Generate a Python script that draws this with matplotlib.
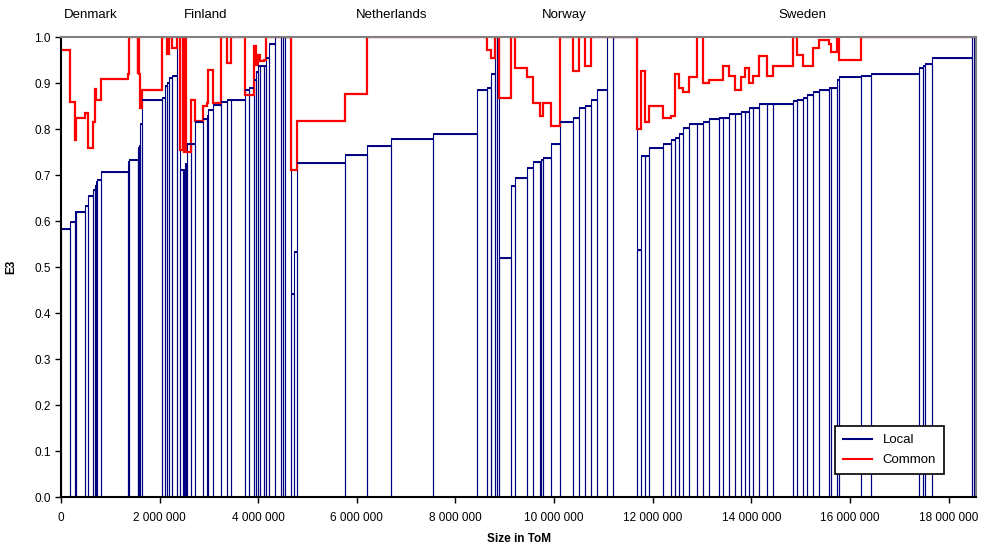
import numpy as np
import matplotlib
matplotlib.use("Agg")
import matplotlib.pyplot as plt
from matplotlib.lines import Line2D
from matplotlib.ticker import FuncFormatter, MultipleLocator

plt.rcParams['font.family'] = ['Liberation Sans', 'DejaVu Sans']

# unit sizes (thousand ToM), local and common E3 per unit, country by country
countries = ["Denmark", "Finland", "Netherlands", "Norway", "Sweden"]

size_dk = [189, 95, 26, 176, 67, 101, 35, 20, 26, 69, 548]
local_dk = [0.582, 0.598, 0.62, 0.62, 0.633, 0.655, 0.667, 0.677, 0.685, 0.689, 0.7065]
common_dk = [0.971, 0.859, 0.776, 0.825, 0.834, 0.759, 0.816, 0.886, 0.862, 0.863, 0.909]

size_fi = [26, 176, 16, 16, 20, 41, 393, 67, 34, 53, 61, 95, 67, 61, 18, 16, 20, 14, 87, 81,
           168, 69, 32, 101, 156, 122, 81, 298, 73, 95, 47, 41, 41, 81, 41, 49, 134, 116, 47, 41, 122]
local_fi = [0.729, 0.733, 0.759, 0.759, 0.762, 0.811, 0.863, 0.867, 0.893, 0.899, 0.911, 0.916, 1.0,
            0.711, 0.711, 0.711, 0.724, 0.724, 0.767, 0.767, 0.815, 0.821, 0.828, 0.841, 0.852, 0.859,
            0.863, 0.863, 0.885, 0.89, 0.907, 0.924, 0.937, 0.937, 0.937, 0.954, 0.985, 1.0, 1.0, 1.0, 1.0]
common_fi = [0.919, 1.0, 0.92, 1.0, 0.92, 0.846, 0.885, 1.0, 1.0, 0.963, 1.0, 0.976, 1.0,
             0.754, 1.0, 0.75, 1.0, 0.75, 0.75, 0.863, 0.817, 0.85, 0.856, 0.928, 0.857, 1.0,
             0.943, 1.0, 0.873, 0.873, 0.98, 0.94, 0.96, 0.947, 0.95, 1.0, 1.0, 1.0, 1.0, 1.0, 1.0]

size_nl = [61, 55, 973, 452, 487, 852, 892, 191, 81, 12, 81, 41, 41]
local_nl = [0.442, 0.533, 0.726, 0.743, 0.764, 0.778, 0.790, 0.885, 0.89, 0.907, 0.92, 1.0, 1.0]
common_nl = [0.711, 0.711, 0.817, 0.877, 1.0, 1.0, 1.0, 1.0, 0.971, 0.954, 0.954, 1.0, 1.0]

size_no = [243, 81, 243, 122, 136, 20, 34, 168, 183, 270, 122, 116, 122, 128, 203, 122, 475]
local_no = [0.52, 0.677, 0.694, 0.716, 0.729, 0.729, 0.733, 0.738, 0.767, 0.816, 0.825, 0.846,
            0.851, 0.864, 0.885, 1.0, 1.0]
common_no = [0.867, 1.0, 0.933, 0.912, 0.856, 0.828, 0.828, 0.856, 0.807, 1.0, 0.926, 1.0,
             0.938, 1.0, 1.0, 1.0, 1.0]

size_se = [81, 87, 87, 284, 150, 87, 81, 87, 116, 156, 134, 122, 203, 81, 122, 122, 122, 81, 69, 93,
           122, 150, 134, 406, 81, 110, 93, 122, 122, 203, 34, 128, 41, 446, 203, 973, 69, 53, 126,
           811, 41, 51]
local_se = [0.538, 0.741, 0.741, 0.759, 0.768, 0.777, 0.781, 0.79, 0.803, 0.811, 0.811, 0.816,
            0.821, 0.825, 0.825, 0.833, 0.833, 0.838, 0.838, 0.846, 0.846, 0.855, 0.855, 0.855,
            0.86, 0.864, 0.868, 0.873, 0.881, 0.885, 0.89, 0.89, 0.907, 0.912, 0.916, 0.92, 0.933,
            0.938, 0.942, 0.955, 1.0, 1.0]
common_se = [0.8, 0.926, 0.816, 0.85, 0.825, 0.829, 0.92, 0.89, 0.881, 0.912, 1.0, 0.9, 0.907,
             0.907, 0.938, 0.916, 0.885, 0.912, 0.933, 0.9, 0.916, 0.958, 0.916, 0.938, 1.0, 0.96,
             0.938, 0.938, 0.976, 0.993, 0.985, 0.968, 1.0, 0.95, 1.0, 1.0, 1.0, 1.0, 1.0, 1.0, 1.0, 1.0]

sizes = [size_dk, size_fi, size_nl, size_no, size_se]
size = np.concatenate(sizes) * 1000
local = np.concatenate([local_dk, local_fi, local_nl, local_no, local_se])
common = np.concatenate([common_dk, common_fi, common_nl, common_no, common_se])
edges = np.concatenate([[0], np.cumsum(size)])

navy = '#000080'

fig = plt.figure(figsize=(9.84, 5.46), dpi=100)
ax = fig.add_axes([0.062, 0.0897, 0.930, 0.8425])

# local: bars outlined, thicker tops
ax.bar(edges[:-1], local, width=size, align='edge', fill=False, edgecolor=navy, linewidth=0.8)
ax.hlines(local, edges[:-1], edges[1:], color=navy, linewidth=1.4)
# common: step line
ax.stairs(common, edges, color='#ff0000', linewidth=1.6, baseline=None)

ax.set_xlim(0, edges[-1])
ax.set_ylim(0, 1.0)
ax.yaxis.set_major_locator(MultipleLocator(0.1))
ax.yaxis.set_major_formatter(FuncFormatter(lambda v, p: f"{v:.1f}"))
ax.xaxis.set_major_locator(MultipleLocator(2000000))
ax.xaxis.set_major_formatter(FuncFormatter(lambda v, p: f"{v:,.0f}".replace(",", " ")))
ax.tick_params(labelsize=8.5, length=4, width=1, direction='out')
ax.tick_params(axis='x', pad=7)

for s in ['left', 'bottom']:
    ax.spines[s].set_color('black')
    ax.spines[s].set_linewidth(1.5)
for s in ['top', 'right']:
    ax.spines[s].set_color('#808080')
    ax.spines[s].set_linewidth(1.5)

ax.set_xlabel('Size in ToM', fontsize=8.5, fontweight='bold', labelpad=6)
ax.set_ylabel('E3', fontsize=8.5, fontweight='bold', labelpad=12)

# country names centred over each block
starts = np.cumsum([0] + [sum(s) for s in sizes]) * 1000
for name, a, b in zip(countries, starts[:-1], starts[1:]):
    ax.text((a + b) / 2 - 80000, 1.048, name, transform=ax.get_xaxis_transform(),
            ha='center', va='center', fontsize=9.5)

handles = [Line2D([], [], color=navy, lw=1.5), Line2D([], [], color='#ff0000', lw=1.5)]
leg = ax.legend(handles, ['Local', 'Common'], loc='lower right', bbox_to_anchor=(0.972, 0.035),
                fontsize=9.5, fancybox=False, edgecolor='black', framealpha=1,
                borderpad=0.6, handlelength=2.2, labelspacing=0.6)
leg.get_frame().set_linewidth(1.2)

plt.savefig('out.png', dpi=100)
